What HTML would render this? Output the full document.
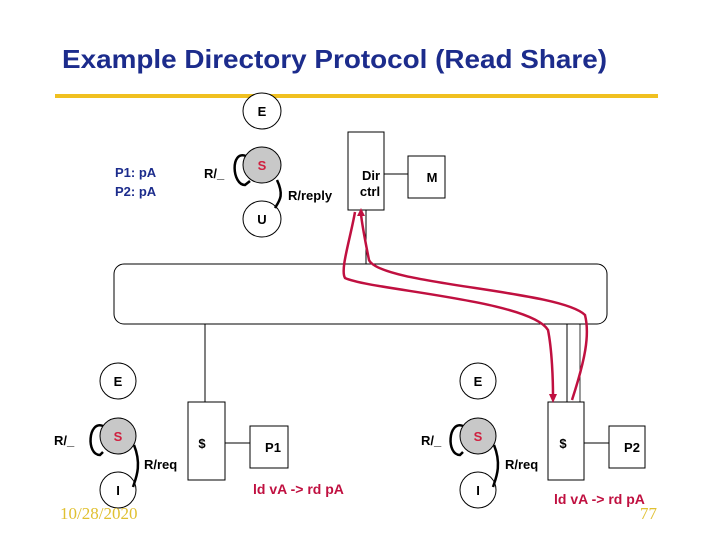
<!DOCTYPE html>
<html><head><style>
body{margin:0;background:#fff}
</style></head><body>
<svg width="720" height="540" xmlns="http://www.w3.org/2000/svg" font-family="Liberation Sans, sans-serif" font-weight="bold">
<text x="62" y="68" font-size="26" fill="#1c2c8c" textLength="545" lengthAdjust="spacingAndGlyphs">Example Directory Protocol (Read Share)</text>
<line x1="55" y1="96" x2="658" y2="96" stroke="#f0c020" stroke-width="4"/>
<g stroke="#000" stroke-width="1" fill="#fff">
<ellipse cx="262" cy="111" rx="19" ry="18"/>
<ellipse cx="262" cy="165" rx="19" ry="18" fill="#c8c8c8"/>
<ellipse cx="262" cy="219" rx="19" ry="18"/>
<rect x="348" y="132" width="36" height="78"/>
<rect x="408" y="156" width="37" height="42"/>
<line x1="384" y1="174" x2="408" y2="174"/>
<line x1="366" y1="210" x2="366" y2="264"/>
<rect x="114" y="264" width="493" height="60" rx="10"/>
<line x1="205" y1="324" x2="205" y2="402"/>
<line x1="567" y1="324" x2="567" y2="402"/>
<line x1="580" y1="324" x2="580" y2="402" stroke-width="0.8"/>
<circle cx="118" cy="381" r="18"/>
<circle cx="118" cy="436" r="18" fill="#c8c8c8"/>
<circle cx="118" cy="490" r="18"/>
<rect x="188" y="402" width="37" height="78"/>
<rect x="250" y="426" width="38" height="42"/>
<line x1="225" y1="443" x2="250" y2="443"/>
<circle cx="478" cy="381" r="18"/>
<circle cx="478" cy="436" r="18" fill="#c8c8c8"/>
<circle cx="478" cy="490" r="18"/>
<rect x="548" y="402" width="36" height="78"/>
<rect x="609" y="426" width="36" height="42"/>
<line x1="584" y1="443" x2="609" y2="443"/>
</g>
<g stroke="#000" stroke-width="2.5" fill="none">
<path d="M246 156 C230 150 232 185 245 185 L250 181"/>
<path d="M277 180 C284 195 280 200 275 208"/>
<path d="M103 426 C88 420 86 455 100 455 L103 452"/>
<path d="M134 445 C142 465 136 478 133 487"/>
<path d="M463 426 C448 420 446 455 460 455 L463 452"/>
<path d="M494 445 C502 465 496 478 493 487"/>
</g>
<g stroke="#c01040" stroke-width="2.5" fill="none">
<path d="M355 212 C350 240 340 270 345 278 C370 290 530 300 548 330 C552 350 553 380 553 396"/>
<path d="M572 400 C585 360 590 335 585 315 C560 290 380 285 369 260 C365 240 362 225 361 214"/>
</g>
<polygon points="549,394 557,394 553,403" fill="#c01040"/>
<polygon points="357,216 365,216 361,208" fill="#c01040"/>
<g font-size="13" fill="#000" text-anchor="middle">
<text x="262" y="116">E</text>
<text x="262" y="170" fill="#d02040">S</text>
<text x="262" y="224">U</text>
<text x="371" y="180">Dir</text>
<text x="370" y="196">ctrl</text>
<text x="432" y="182">M</text>
<text x="118" y="386">E</text>
<text x="118" y="441" fill="#d02040">S</text>
<text x="118" y="495">I</text>
<text x="202" y="448">$</text>
<text x="273" y="452">P1</text>
<text x="478" y="386">E</text>
<text x="478" y="441" fill="#d02040">S</text>
<text x="478" y="495">I</text>
<text x="563" y="448">$</text>
<text x="632" y="452">P2</text>
</g>
<g font-size="13" fill="#000">
<text x="204" y="178">R/_</text>
<text x="288" y="200">R/reply</text>
<text x="54" y="445">R/_</text>
<text x="144" y="469">R/req</text>
<text x="421" y="445">R/_</text>
<text x="505" y="469">R/req</text>
</g>
<g font-size="13" fill="#1c2c8c">
<text x="115" y="177">P1: pA</text>
<text x="115" y="196">P2: pA</text>
</g>
<g font-size="14" fill="#c01040" font-weight="bold">
<text x="253" y="494">ld vA -&gt; rd pA</text>
<text x="554" y="504">ld vA -&gt; rd pA</text>
</g>
<text x="60" y="519" font-size="17" font-family="Liberation Serif, serif" font-weight="normal" fill="#e0c030">10/28/2020</text>
<text x="640" y="519" font-size="17" font-family="Liberation Serif, serif" font-weight="normal" fill="#e0c030">77</text>
</svg>
</body></html>
